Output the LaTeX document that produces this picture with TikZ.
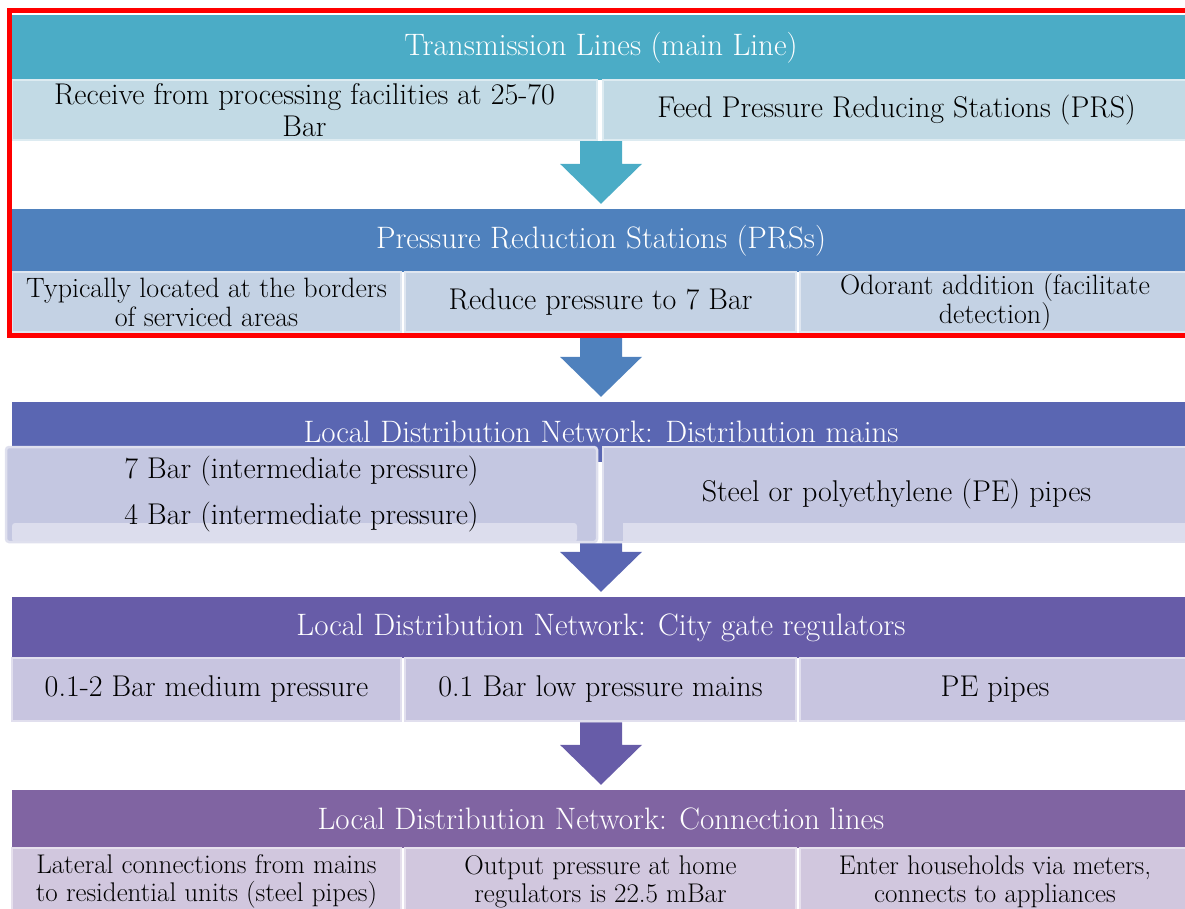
\documentclass[tikz,border=0pt]{standalone}
\usepackage{tikz}
\usetikzlibrary{calc}
\usetikzlibrary{positioning}

% band and cell colours (top to bottom)
\definecolor{bandA}{HTML}{4BACC6}
\definecolor{bandB}{HTML}{4F81BD}
\definecolor{bandC}{HTML}{5A66B2}
\definecolor{bandD}{HTML}{675CA8}
\definecolor{bandE}{HTML}{8064A2}
\definecolor{cellA}{HTML}{C2DAE5}
\definecolor{cellB}{HTML}{C4D2E4}
\definecolor{cellC}{HTML}{C4C7E1}
\definecolor{cellD}{HTML}{C8C5E0}
\definecolor{cellE}{HTML}{D1C7DE}

\tikzset{
  band/.style={minimum width=1178pt, inner sep=0pt, text=white,
    font=\fontsize{31}{35}\selectfont},
  cell/.style={line width=2.5pt, inner sep=0pt, align=center,
    font=\fontsize{30}{32}\selectfont},
  smallcell/.style={cell, font=\fontsize{27}{28}\selectfont},
  % lighter strip along the bottom of a cell, #1 = left and right insets
  stripcell/.style 2 args={cell, path picture={
    \fill[cellC!60!white] ($(path picture bounding box.south west)+(#1,-19)$)
      rectangle ($(path picture bounding box.south east)+(-#2,0)$);}},
}

% block arrow from a row of cells down to the next band
\newcommand{\flowarrow}[3]{%
  \fill[#3] let \p1=(#1.south), \p2=(#2.north) in
    (\x2-21pt,\y1) -- (\x2+21pt,\y1) -- (\x2+21pt,\y2+45pt) -- (\x2+41pt,\y2+45pt)
    -- (\x2,\y2+5pt) -- (\x2-41pt,\y2+45pt) -- (\x2-21pt,\y2+45pt) -- cycle;}

\begin{document}
\begin{tikzpicture}[x=1pt, y=-1pt]
    \useasboundingbox (0,0) rectangle (1185,909);
    \clip (0,0) rectangle (1185,909);

    % Bands
    \node[band, fill=bandA, minimum height=65pt] (trans) at (601,47.5) {Transmission Lines (main Line)};
    \node[band, fill=bandB, minimum height=63pt] (prs) at (601,240.5) {Pressure Reduction Stations (PRSs)};
    \node[band, fill=bandC, minimum height=60pt] (mains) at (601,432) {Local Distribution Network: Distribution mains};
    \node[band, fill=bandD, minimum height=61pt] (gate) at (601,627.5) {Local Distribution Network: City gate regulators};
    \node[band, fill=bandE, minimum height=58pt] (conn) at (601,819) {Local Distribution Network: Connection lines};

    % Row 1: transmission
    \node[cell, fill=cellA, draw=cellA!55!white, minimum width=585pt, minimum height=60pt] (transL) at (304.5,110) {Receive from processing facilities at 25-70\\Bar};
    \node[cell, fill=cellA, draw=cellA!55!white, minimum width=587pt, minimum height=60pt] (transR) at (896.5,110) {Feed Pressure Reducing Stations (PRS)};

    % Row 2: reduction stations
    \node[cell, fill=cellB, draw=cellB!55!white, minimum width=389pt, minimum height=60pt, font=\fontsize{28}{29}\selectfont] (prsL) at (206.5,302) {Typically located at the borders\\of serviced areas};
    \node[cell, fill=cellB, draw=cellB!55!white, minimum width=391pt, minimum height=60pt] (prsM) at (600.5,302) {Reduce pressure to 7 Bar};
    \node[cell, fill=cellB, draw=cellB!55!white, minimum width=390pt, minimum height=60pt, font=\fontsize{28}{29}\selectfont] (prsR) at (995,302) {Odorant addition (facilitate\\detection)};

    % Row 3: distribution mains
    \node[stripcell={6}{20}, fill=cellC, draw=cellC!55!white, minimum width=591pt, minimum height=95pt, rounded corners=3pt] (mainsL) at (301.5,494.5) {7 Bar (intermediate pressure)\\[14pt]4 Bar (intermediate pressure)};
    \node[stripcell={20}{0}, fill=cellC, draw=cellC!55!white, minimum width=587pt, minimum height=95pt] (mainsR) at (896.5,494.5) {Steel or polyethylene (PE) pipes};

    % Row 4: city gate regulators
    \node[cell, fill=cellD, draw=cellD!55!white, minimum width=389pt, minimum height=63pt] (gateL) at (206.5,689.5) {0.1-2 Bar medium pressure};
    \node[cell, fill=cellD, draw=cellD!55!white, minimum width=391pt, minimum height=63pt] (gateM) at (600.5,689.5) {0.1 Bar low pressure mains};
    \node[cell, fill=cellD, draw=cellD!55!white, minimum width=390pt, minimum height=63pt] (gateR) at (995,689.5) {PE pipes};

    % Row 5: connection lines
    \node[smallcell, fill=cellE, draw=cellE!55!white, minimum width=389pt, minimum height=67pt] (connL) at (206.5,881.5) {Lateral connections from mains\\to residential units (steel pipes)};
    \node[smallcell, fill=cellE, draw=cellE!55!white, minimum width=391pt, minimum height=67pt] (connM) at (600.5,881.5) {Output pressure at home\\regulators is 22.5 mBar};
    \node[smallcell, fill=cellE, draw=cellE!55!white, minimum width=390pt, minimum height=67pt] (connR) at (995,881.5) {Enter households via meters,\\connects to appliances};

    % Arrows between stages
    \flowarrow{transL}{prs}{bandA}
    \flowarrow{prsM}{mains}{bandB}
    \flowarrow{mainsL}{gate}{bandC}
    \flowarrow{gateM}{conn}{bandD}

    % Highlight frame round the first two stages
    \draw[red, line width=5pt] (9,10.5) rectangle (1195,335);
\end{tikzpicture}
\end{document}
